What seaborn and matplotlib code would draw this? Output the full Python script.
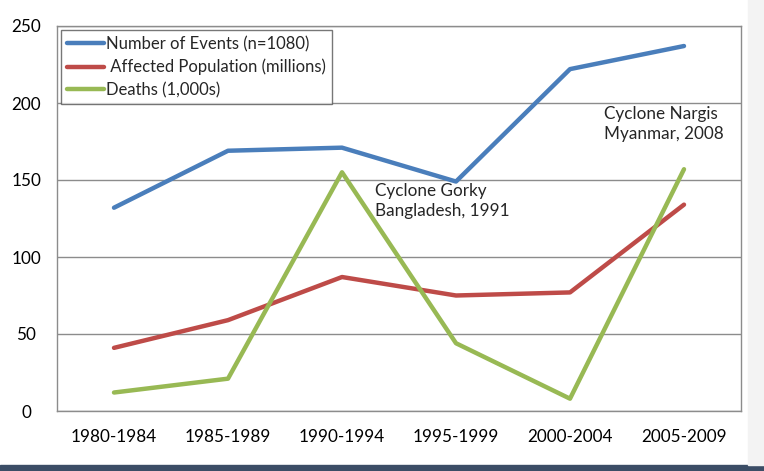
import matplotlib
matplotlib.use("Agg")
import matplotlib.pyplot as plt
import seaborn as sns
import pandas as pd
from matplotlib.patches import Rectangle

categories = ["1980-1984", "1985-1989", "1990-1994", "1995-1999", "2000-2004", "2005-2009"]
events = [132, 169, 171, 149, 222, 237]
affected = [41, 59, 87, 75, 77, 134]
deaths = [12, 21, 155, 44, 8, 157]
series_names = ["Number of Events (n=1080)", " Affected Population (millions)", "Deaths (1,000s)"]
colors = ["#4A7EBB", "#BE4B48", "#98B954"]

df = pd.DataFrame({"period": categories * 3,
                   "value": events + affected + deaths,
                   "series": [series_names[0]] * 6 + [series_names[1]] * 6 + [series_names[2]] * 6})

sns.set_style("white")
plt.rcParams["font.family"] = ["Lato", "DejaVu Sans"]

fig = plt.figure(figsize=(7.64, 4.71), dpi=100)
ax = fig.add_axes([57 / 764, 60 / 471, 684 / 764, 385 / 471])

sns.lineplot(data=df, x="period", y="value", hue="series", palette=colors,
             linewidth=3.2, ax=ax, sort=False)

ax.set_xlim(-0.5, 5.5)
ax.set_ylim(0, 250)
ax.set_yticks([0, 50, 100, 150, 200, 250])
ax.grid(axis="y", color="#8c8c8c", linewidth=1)
ax.set_axisbelow(True)
for s in ax.spines.values():
    s.set_color("#8c8c8c")
    s.set_linewidth(1)
ax.set_xlabel("")
ax.set_ylabel("")
ax.tick_params(axis="both", length=0, labelsize=12.3, colors="#000000")
ax.tick_params(axis="x", pad=13)
ax.tick_params(axis="y", pad=22)
for lab in ax.get_yticklabels():
    lab.set_horizontalalignment("center")

leg = ax.legend(loc="upper left", bbox_to_anchor=(0.0, 1.0), frameon=True, fancybox=False,
                fontsize=12, handlelength=2.2, handletextpad=0.15, borderpad=0.35,
                labelspacing=0.4, borderaxespad=0.25)
leg.get_frame().set_edgecolor("#555555")
leg.get_frame().set_linewidth(1)

ax.text(2.29, 148, "Cyclone Gorky\nBangladesh, 1991", fontsize=12.3, va="top", ha="left",
        linespacing=1.3)
ax.text(4.3, 198, "Cyclone Nargis\nMyanmar, 2008", fontsize=12.3, va="top", ha="left",
        linespacing=1.3)

fig.patches.append(Rectangle((0, 0), 1, 6 / 471, transform=fig.transFigure,
                             color="#3b4d66", zorder=0))
fig.patches.append(Rectangle((748 / 764, 6 / 471), 16 / 764, 1, transform=fig.transFigure,
                             color="#f3f3f3", zorder=0))

fig.savefig("out.png", dpi=100)
